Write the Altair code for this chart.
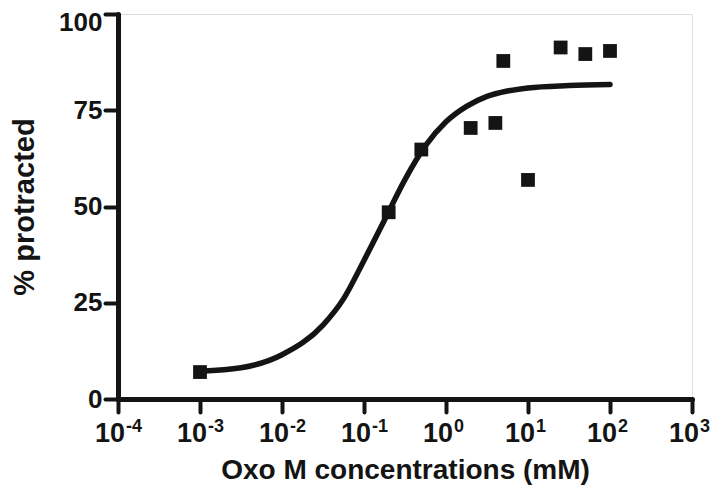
import altair as alt
import pandas as pd

# Data points (Oxo M concentration in mM, % protracted)
conc = [0.001, 0.2, 0.5, 2, 4, 5, 10, 25, 50, 100]
pct = [7.0, 48.5, 64.8, 70.4, 71.7, 87.8, 56.9, 91.3, 89.6, 90.4]

# Fitted curve
curve_x = [0.001, 0.00316, 0.01, 0.0316, 0.0562, 0.1, 0.178, 0.316, 0.562,
           1, 1.78, 3.16, 5.62, 10, 31.6, 100]
curve_y = [7.2, 8.1, 11.5, 19.2, 26.0, 36.0, 46.5, 57.0, 65.8,
           72.0, 76.0, 78.6, 80.0, 80.8, 81.4, 81.7]

# Tick exponents for the log x axis
exponents = [-4, -3, -2, -1, 0, 1, 2, 3]
y_ticks = [0, 25, 50, 75, 100]

FONT = "Liberation Sans"
INK = "#141414"
W, H = 574, 385

pts = pd.DataFrame({"conc": conc, "pct": pct})
crv = pd.DataFrame({"conc": curve_x, "pct": curve_y})
lab = pd.DataFrame({
    "tick": [10.0 ** e for e in exponents],
    "base": ["10"] * len(exponents),
    "exp": [str(e) for e in exponents],
    "neg": [e < 0 for e in exponents],
})

xscale = alt.Scale(type="log", domain=[1e-4, 1e3], nice=False)
yscale = alt.Scale(domain=[0, 100], nice=False, zero=False)

x_axis = alt.Axis(
    values=[10.0 ** e for e in exponents], labels=False, grid=False,
    title="Oxo M concentrations (mM)", titleFont=FONT, titleFontSize=28,
    titleFontWeight="bold", titleColor=INK, titleX=W / 2, titleY=79,
    titleBaseline="alphabetic", titleAlign="center",
    domainColor=INK, domainWidth=5, domainCap="round",
    tickColor=INK, tickWidth=4, tickSize=13, tickCap="round",
)
y_axis = alt.Axis(
    values=y_ticks, grid=False, title="% protracted", titleFont=FONT,
    titleFontSize=29, titleFontWeight="bold", titleColor=INK,
    titleX=-94, titleY=H / 2, titleAngle=-90, titleAlign="center",
    titleBaseline="middle",
    labelFont=FONT, labelFontSize=26, labelFontWeight="bold", labelColor=INK,
    labelPadding=3, labelFlush=False,
    labelOffset={"condition": {"test": "datum.value == 100", "value": 8}, "value": 0},
    domainColor=INK, domainWidth=5, domainCap="round",
    tickColor=INK, tickWidth=4, tickSize=13, tickCap="round",
)

curve = alt.Chart(crv).mark_line(
    color=INK, strokeWidth=5.5, strokeCap="round", interpolate="monotone"
).encode(
    x=alt.X("conc:Q", scale=xscale, axis=x_axis),
    y=alt.Y("pct:Q", scale=yscale, axis=y_axis),
)

points = alt.Chart(pts).mark_point(
    shape="square", filled=True, size=190, color=INK, opacity=1
).encode(
    x=alt.X("conc:Q", scale=xscale),
    y=alt.Y("pct:Q", scale=yscale),
)

def tick_labels(neg, shift):
    base = alt.Chart(lab).transform_filter(
        "datum.neg" if neg else "!datum.neg"
    )
    ten = base.mark_text(
        font=FONT, fontSize=27, fontWeight="bold", color=INK,
        align="right", baseline="alphabetic", dx=shift
    ).encode(
        x=alt.X("tick:Q", scale=xscale),
        y=alt.value(H + 43),
        text="base:N",
    )
    sup = base.mark_text(
        font=FONT, fontSize=18, fontWeight="bold", color=INK,
        align="left", baseline="alphabetic", dx=shift + 1
    ).encode(
        x=alt.X("tick:Q", scale=xscale),
        y=alt.value(H + 33),
        text="exp:N",
    )
    return ten + sup

chart = alt.layer(
    curve, points, tick_labels(True, 7), tick_labels(False, 7)
).properties(
    width=W, height=H,
    autosize=alt.AutoSizeParams(type="none"),
    padding={"left": 110, "top": 6, "right": 20, "bottom": 86},
).configure_view(stroke=None).configure(background="white")

chart.save("out.html", embed_options={"renderer": "svg", "actions": False})
